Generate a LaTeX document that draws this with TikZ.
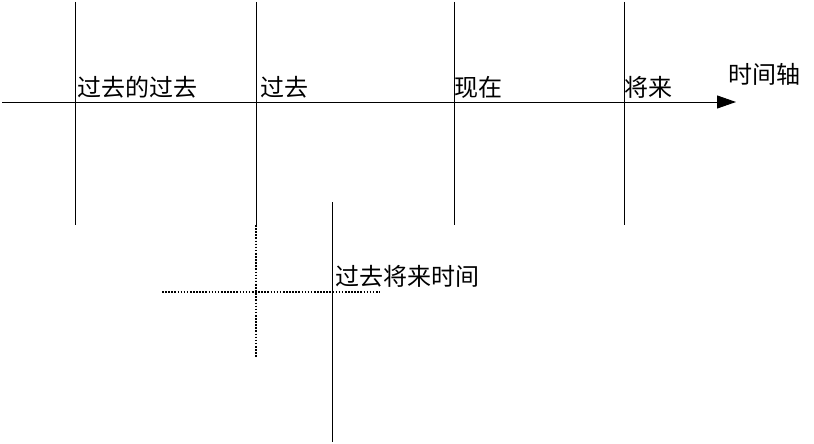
\documentclass[tikz,border=0pt]{standalone}
\usepackage{fontspec}
\setmainfont{Noto Sans CJK SC}
\usetikzlibrary{arrows.meta}
\tikzset{
  tick/.style={draw=black, line width=0.9pt},
  dotline/.style={draw=black, line width=1.4pt, dash pattern=on 1.6pt off 1.5pt},
  axis/.style={draw=black, line width=1pt, -{Triangle[length=19pt,width=13pt]}},
  tag/.style={anchor=west, inner sep=0pt, font=\fontsize{24}{28}\selectfont}
}

\begin{document}
\begin{tikzpicture}[x=1pt,y=-1pt]
  \useasboundingbox (0,0) rectangle (814,444);

  % the time axis
  \coordinate (start) at (2,102);
  \coordinate (end) at (736,102);
  \draw[axis] (start) -- (end);
  \node[tag] (axisname) at (728,74) {时间轴};

  % one mark per period
  \foreach \name/\x/\tx/\txt in {pastpast/75/77/过去的过去, past/256/260/过去,
                                 now/454/454/现在, future/624/624/将来} {
    \coordinate (\name-top) at (\x,2);
    \coordinate (\name-bot) at (\x,225);
    \draw[tick] (\name-top) -- (\name-bot);
    \node[tag] (\name-text) at (\tx,87) {\txt};
  }

  % the past seen from its own future
  \coordinate (past-low) at (256,357);
  \draw[dotline] (past-bot) -- (past-low);
  \coordinate (dleft) at (162,292);
  \coordinate (dright) at (380,292);
  \draw[dotline] (dleft) -- (dright);
  \coordinate (ftop) at (332,202);
  \coordinate (fbot) at (332,442);
  \draw[tick] (ftop) -- (fbot);
  \node[tag] (pastfuture) at (335,276) {过去将来时间};

\end{tikzpicture}
\end{document}
